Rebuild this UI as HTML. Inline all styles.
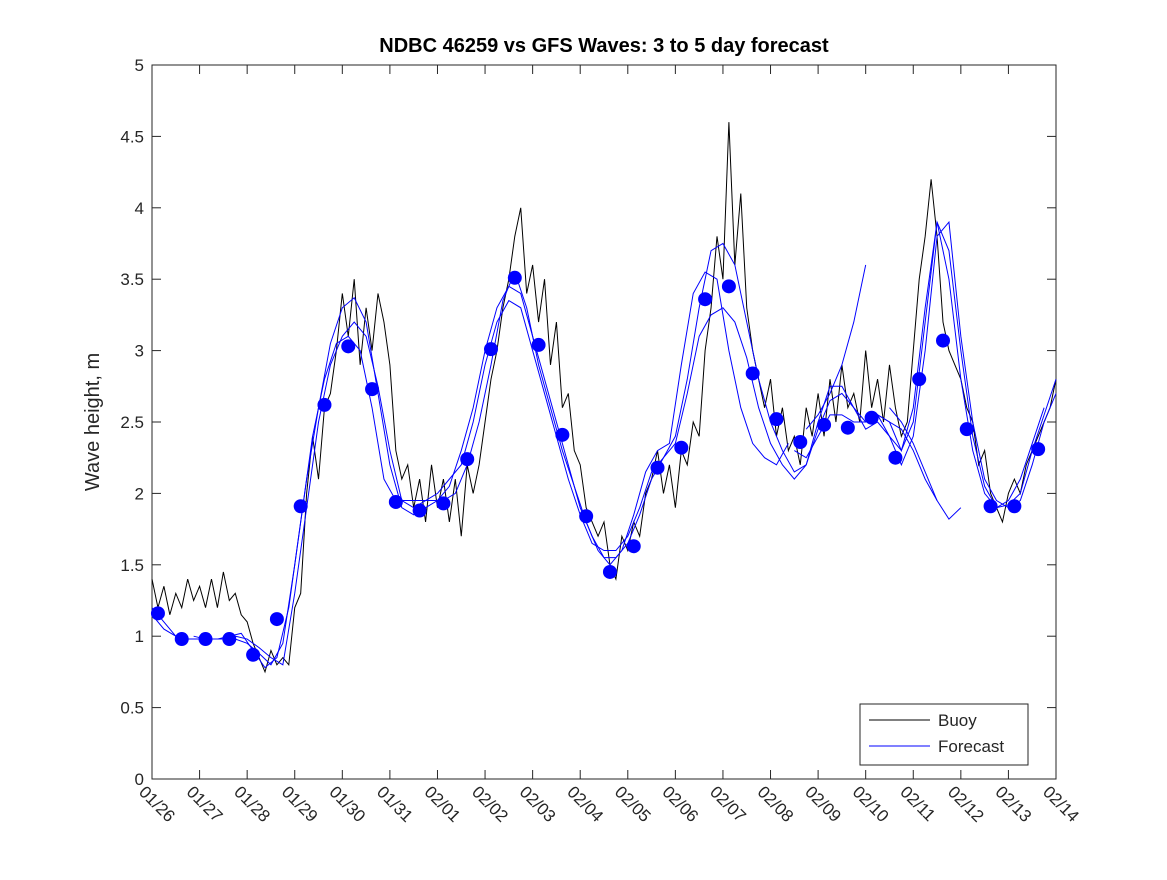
<!DOCTYPE html>
<html><head><meta charset="utf-8"><style>
body{margin:0;background:#fff;}
svg{font-family:"Liberation Sans","DejaVu Sans",sans-serif;}
</style></head><body>
<svg id="chart" width="1167" height="875" xmlns="http://www.w3.org/2000/svg">
<rect width="1167" height="875" fill="#fff"/>
<text x="604" y="52" text-anchor="middle" font-size="20" font-weight="bold">NDBC 46259 vs GFS Waves: 3 to 5 day forecast</text>
<text transform="translate(99,422) rotate(-90)" text-anchor="middle" font-size="20" fill="#262626">Wave height, m</text>
<g id="axes"></g>
<g id="plot"></g>
<g>
<rect x="860" y="704" width="168" height="61" fill="#fff" stroke="#262626"/>
<line x1="869" y1="720" x2="930" y2="720" stroke="#000"/>
<text x="938" y="726" font-size="17" fill="#262626">Buoy</text>
<line x1="869" y1="746" x2="930" y2="746" stroke="#0000ff"/>
<text x="938" y="752" font-size="17" fill="#262626">Forecast</text>
</g>
</svg>
<script>
const xTickLabels=["01/26","01/27","01/28","01/29","01/30","01/31","02/01","02/02","02/03","02/04","02/05","02/06","02/07","02/08","02/09","02/10","02/11","02/12","02/13","02/14"];
const yTicks=[0,0.5,1,1.5,2,2.5,3,3.5,4,4.5,5];
const buoyStep=0.125;
const buoy=[
1.4,1.2,1.35,1.15,1.3,1.2,1.4,1.25,
1.35,1.2,1.4,1.2,1.45,1.25,1.3,1.15,
1.1,0.95,0.85,0.75,0.9,0.8,0.85,0.8,
1.2,1.3,2.0,2.4,2.1,2.6,2.7,3.0,
3.4,3.1,3.5,2.9,3.3,3.0,3.4,3.2,
2.9,2.3,2.1,2.2,1.9,2.1,1.8,2.2,
1.9,2.1,1.8,2.1,1.7,2.2,2.0,2.2,
2.5,2.8,3.0,3.3,3.5,3.8,4.0,3.4,
3.6,3.2,3.5,2.9,3.2,2.6,2.7,2.3,
2.2,1.9,1.8,1.7,1.8,1.5,1.4,1.7,
1.6,1.8,1.7,2.0,2.1,2.3,2.0,2.2,
1.9,2.3,2.2,2.5,2.4,3.0,3.3,3.8,
3.5,4.6,3.6,4.1,3.3,3.0,2.8,2.6,
2.8,2.4,2.6,2.3,2.4,2.2,2.6,2.4,
2.7,2.4,2.8,2.5,2.9,2.6,2.7,2.5,
3.0,2.6,2.8,2.5,2.9,2.6,2.4,2.5,
3.0,3.5,3.8,4.2,3.8,3.2,3.0,2.9,
2.8,2.6,2.5,2.2,2.3,2.0,1.9,1.8,
2.0,2.1,2.0,2.2,2.3,2.4,2.5,2.6,2.8];
const dotStart=0.125, dotStep=0.5;
const dots=[1.16,0.98,0.98,0.98,0.87,1.12,1.91,2.62,3.03,2.73,1.94,1.88,1.93,2.24,3.01,3.51,3.04,2.41,1.84,1.45,1.63,2.18,2.32,3.36,3.45,2.84,2.52,2.36,2.48,2.46,2.53,2.25,2.80,3.07,2.45,1.91,1.91,2.31];
const fcStep=0.25;
const fcStarts=[0,0,0.875,13.5,13.75,15.25,15.5];
const fcRuns=[
[1.2,1.1,1.0,0.98,0.98,0.98,0.98,0.98,0.95,0.88,0.8,0.95,1.5,2.1,2.6,3.05,3.3,3.37,3.2,2.7,2.2,1.9,1.85,1.9,1.95,2.05,2.3,2.6,3.0,3.3,3.45,3.4,3.1,2.8,2.5,2.2,1.9,1.7,1.55,1.55,1.65,1.85,2.1,2.25,2.4,2.8,3.3,3.7,3.75,3.6,3.2,2.8,2.5,2.3,2.15,2.2,2.45,2.65,2.7,2.6,2.5,2.55,2.5,2.3,2.6,3.3,3.9,3.5,2.8,2.3,2.0,1.9,1.92,2.0,2.3,2.55,2.8],
[1.15,1.05,1.0,0.98,0.98,0.98,0.98,1.0,0.98,0.92,0.85,0.8,1.3,1.9,2.5,2.9,3.1,3.2,3.1,2.75,2.3,1.95,1.9,1.95,2.0,2.1,2.2,2.5,2.9,3.2,3.35,3.3,3.0,2.7,2.4,2.1,1.85,1.65,1.6,1.6,1.7,1.9,2.15,2.25,2.35,2.7,3.1,3.25,3.3,3.2,2.95,2.6,2.35,2.2,2.1,2.2,2.5,2.75,2.75,2.6,2.45,2.5,2.4,2.2,2.4,3.0,3.8,3.9,3.1,2.5,2.1,1.95,1.9,1.95,2.2,2.5,2.7],
[1.0,0.98,0.98,1.0,1.02,0.9,0.78,0.85,1.2,1.8,2.4,2.8,3.05,3.1,3.0,2.6,2.1,1.95,1.95,1.95,1.95,1.95,2.0,2.2,2.5,2.9,3.35,3.55,3.3,2.9,2.6,2.3,2.05,1.8,1.6,1.5,1.6,1.85,2.15,2.3,2.35,2.9,3.4,3.55,3.5,3.0,2.6,2.35,2.25,2.2,2.35],
[2.3,2.25,2.4,2.55,2.55,2.5,2.5,2.55,2.4,2.3,2.5,3.2,3.9,3.7,3.0,2.4,2.05,1.9,1.95,2.1,2.35,2.6],
[2.45,2.55,2.7,2.9,3.2,3.6],
[2.55,2.5,2.45,2.3,2.1,1.95,1.82,1.9],
[2.6,2.5,2.35,2.15,1.95]
];
const X0=152,X1=1056,Y0=779,Y1=65;
const xs=d=>X0+(X1-X0)*d/19;
const ys=v=>Y0-(Y0-Y1)*v/5;
const NS="http://www.w3.org/2000/svg";
const axes=document.getElementById('axes'), plot=document.getElementById('plot');
function mk(tag,attrs,parent){const e=document.createElementNS(NS,tag);for(const k in attrs)e.setAttribute(k,attrs[k]);parent.appendChild(e);return e;}
const frame=mk('rect',{x:X0,y:Y1,width:X1-X0,height:Y0-Y1,fill:'none',stroke:'#262626'},axes);


yTicks.forEach(v=>{
  const y=ys(v);
  mk('line',{x1:X0,y1:y,x2:X0+9,y2:y,stroke:'#262626'},axes);
  mk('line',{x1:X1,y1:y,x2:X1-9,y2:y,stroke:'#262626'},axes);
  const t=mk('text',{x:X0-8,y:y+6,'text-anchor':'end','font-size':17,fill:'#262626'},axes);
  t.textContent=String(v);
  
  
});
xTickLabels.forEach((lab,i)=>{
  const x=xs(i);
  mk('line',{x1:x,y1:Y0,x2:x,y2:Y0-9,stroke:'#262626'},axes);
  mk('line',{x1:x,y1:Y1,x2:x,y2:Y1+9,stroke:'#262626'},axes);
  const t=mk('text',{transform:`translate(${x-14},${Y0+14}) rotate(45)`,'font-size':17,fill:'#262626'},axes);
  t.textContent=lab;
  
  
});
const bp=mk('polyline',{points:buoy.map((v,i)=>xs(i*buoyStep)+','+ys(v)).join(' '),fill:'none',stroke:'#000','stroke-width':1},plot);


fcRuns.forEach((run,r)=>{
  const p=mk('polyline',{points:run.map((v,i)=>xs(fcStarts[r]+i*fcStep)+','+ys(v)).join(' '),fill:'none',stroke:'#0000ff','stroke-width':1},plot);
  
  
});
dots.forEach((v,i)=>{
  const c=mk('circle',{cx:xs(dotStart+i*dotStep),cy:ys(v),r:7,fill:'#0000ff'},plot);
  
  
});
</script>
</body></html>
